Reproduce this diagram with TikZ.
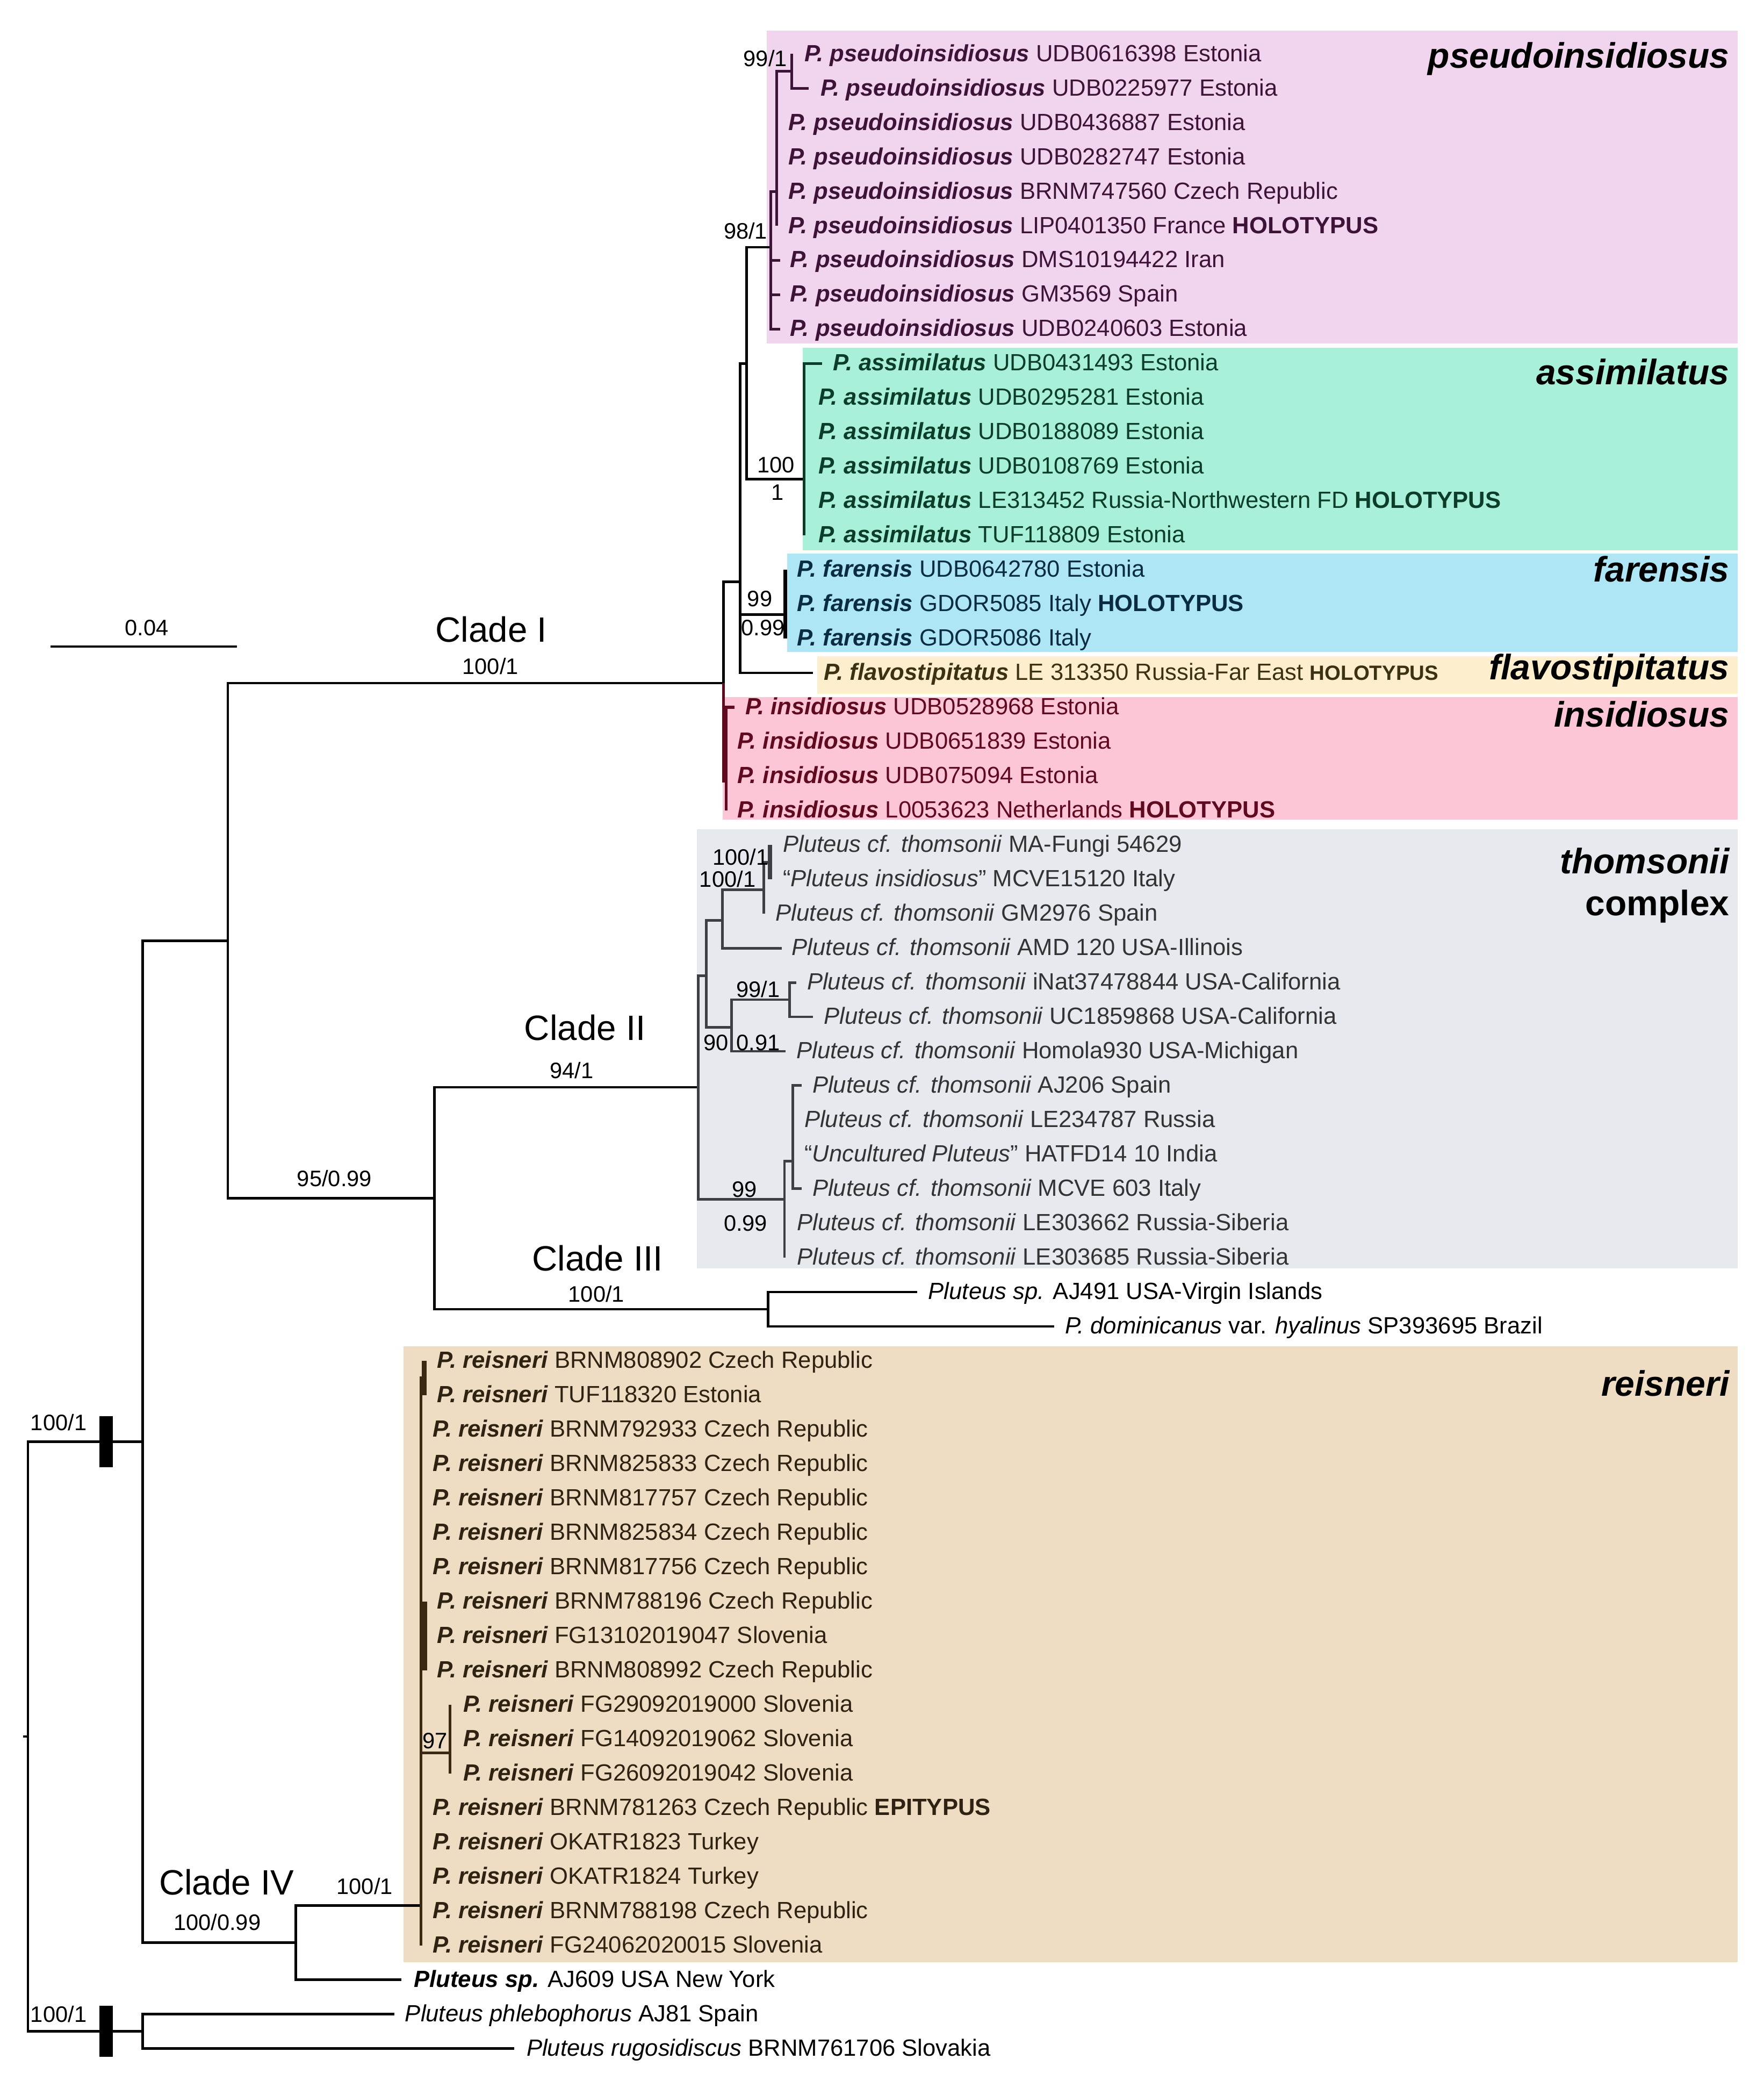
\documentclass[tikz,border=0pt]{standalone}
\usepackage{fontspec}
\setmainfont{Liberation Sans}
\definecolor{cpsbg}{HTML}{F1D5EE}
\definecolor{casbg}{HTML}{A8F0DA}
\definecolor{cfabg}{HTML}{AEE6F6}
\definecolor{cflbg}{HTML}{FDEFCD}
\definecolor{cinbg}{HTML}{FCC6D6}
\definecolor{cthbg}{HTML}{E6EAEF}
\definecolor{crebg}{HTML}{EEDDC3}
\definecolor{cpst}{HTML}{3D1438}
\definecolor{cast}{HTML}{0B3D28}
\definecolor{cfat}{HTML}{0A2C40}
\definecolor{cflt}{HTML}{3A3212}
\definecolor{cint}{HTML}{600A20}
\definecolor{ctht}{HTML}{333333}
\definecolor{cret}{HTML}{2E2212}
\definecolor{cthl}{HTML}{3C4045}
\definecolor{crel}{HTML}{3A2A14}
\newcommand{\leaffont}{\fontsize{17.6}{21}\selectfont}
\newcommand{\supfont}{\fontsize{16.8}{20}\selectfont}
\newcommand{\cladefont}{\fontsize{26.4}{30}\selectfont}
\newcommand{\grpfont}{\fontsize{26.6}{30}\selectfont\bfseries\itshape}
\newcommand{\spn}[1]{\textbf{\textit{#1}}}
\newcommand{\hol}{\textbf{HOLOTYPUS}}
\tikzset{
  tb/.style={line width=1.8pt, black},
  tps/.style={line width=2pt, cpst},
  tas/.style={line width=2pt, cast},
  tfa/.style={line width=3pt, black},
  tin/.style={line width=2.2pt, cint},
  tth/.style={line width=2pt, cthl},
  tthk/.style={line width=3pt, cthl},
  tre/.style={line width=2pt, crel},
  trek/.style={line width=3.6pt, crel},
  lf/.style={anchor=base west, inner sep=0pt, font=\leaffont},
  sup/.style={inner sep=0pt, font=\supfont},
  cladelab/.style={inner sep=0pt, font=\cladefont},
  grp/.style={anchor=east, inner sep=0pt, font=\grpfont},
  bar/.style={fill=black, inner sep=0pt, minimum width=10.3pt, minimum height=38pt}
}
\begin{document}
\begin{tikzpicture}[x=1pt,y=-1pt,declare function={R(\i)=40.5+25.80*\i;}]
\useasboundingbox (0,0) rectangle (1323.8,1561.3);
% ---------- clade backgrounds
\fill[cpsbg] (575.5,23) rectangle (1304,257.5);
\fill[casbg] (602.5,261) rectangle (1304,413);
\fill[cfabg] (590.7,415.5) rectangle (1304,489);
\fill[cflbg] (613.3,492.5) rectangle (1304,520.5);
\fill[cinbg] (542.3,523) rectangle (1304,615);
\fill[cthbg] (523,622) rectangle (1304,951.5);
\fill[crebg] (303,1010) rectangle (1304,1472);
% ---------- internal nodes
\coordinate (root) at (21,1302.8);
\coordinate (stub) at (17.5,1302.8);
\coordinate (nU) at (107,1081.6);
\coordinate (nL) at (107,{R(57.5)});
\coordinate (n171) at (171,705.8);
\coordinate (nCI) at (543,512.5);
\coordinate (n326) at (326,899);
\coordinate (nTh) at (524,815.8);
\coordinate (nCIII) at (576.5,{R(36.5)});
\coordinate (nCIV) at (222,1457.4);
\coordinate (nRe) at (316,{R(53.84)});
\coordinate (nA) at (555.4,{R(15.35)});
\coordinate (nB) at (560.2,{R(9)});
\coordinate (nPs) at (578.6,{R(5.62)});
\coordinate (nC) at (582.7,{R(4)});
\coordinate (nD) at (594.1,{R(0.5)});
\coordinate (nAs) at (603.5,{R(12.36)});
\coordinate (nFa) at (589.4,{R(16.3)});
\coordinate (nIn) at (545,{R(21.15)});
\coordinate (nE) at (530.2,{R(26.8)});
\coordinate (nF) at (542.3,{R(25.2)});
\coordinate (nG) at (573.3,{R(24.3)});
\coordinate (nH) at (577.9,{R(23.5)});
\coordinate (nI) at (549.1,{R(28.3)});
\coordinate (nJ) at (592.7,{R(27.5)});
\coordinate (nK) at (588.7,{R(33.3)});
\coordinate (nM) at (594.8,{R(32.2)});
\coordinate (nR1) at (318.5,{R(38.5)});
\coordinate (nR2) at (318.8,{R(46)});
\coordinate (nR3) at (337.6,{R(49.4)});
% ---------- leaf tips
\coordinate (t0) at (594.1,{R(0)});
\coordinate (t1) at (606.9,{R(1)});
\foreach \i in {2,...,5} {\coordinate (t\i) at (582.7,{R(\i)});}
\foreach \i in {6,7,8} {\coordinate (t\i) at (585.3,{R(\i)});}
\coordinate (t9) at (616.9,{R(9)});
\foreach \i in {10,...,14} {\coordinate (t\i) at (603.5,{R(\i)});}
\foreach \i in {15,16,17} {\coordinate (t\i) at (589.4,{R(\i)});}
\coordinate (t18) at (610.2,{R(18)});
\coordinate (t19) at (551.1,{R(19)});
\foreach \i in {20,21,22} {\coordinate (t\i) at (545,{R(\i)});}
\coordinate (t23) at (577.9,{R(23)});
\coordinate (t24) at (577.9,{R(24)});
\coordinate (t25) at (573.3,{R(25)});
\coordinate (t26) at (586.7,{R(26)});
\coordinate (t27) at (597.5,{R(27)});
\coordinate (t28) at (610.2,{R(28)});
\coordinate (t29) at (589.4,{R(29)});
\coordinate (t30) at (601.5,{R(30)});
\coordinate (t31) at (594.8,{R(31)});
\coordinate (t32) at (594.8,{R(32)});
\coordinate (t33) at (601.5,{R(33)});
\coordinate (t34) at (588.7,{R(34)});
\coordinate (t35) at (588.7,{R(35)});
\coordinate (t36) at (688.4,{R(36)});
\coordinate (t37) at (791,{R(37)});
\coordinate (t38) at (318.5,{R(38)});
\coordinate (t39) at (318.5,{R(39)});
\foreach \i in {40,...,44} {\coordinate (t\i) at (316,{R(\i)});}
\foreach \i in {45,46,47} {\coordinate (t\i) at (318.8,{R(\i)});}
\foreach \i in {48,49,50} {\coordinate (t\i) at (337.6,{R(\i)});}
\foreach \i in {51,...,55} {\coordinate (t\i) at (316,{R(\i)});}
\coordinate (t56) at (301.3,{R(56)});
\coordinate (t57) at (296,{R(57)});
\coordinate (t58) at (386,{R(58)});
% ---------- backbone
\draw[tb] (root) -- (stub);
\draw[tb] (root) |- (nU);
\draw[tb] (root) |- (nL);
\draw[tb] (nU) |- (n171);
\draw[tb] (nU) |- (nCIV);
\draw[tb] (n171) |- (nCI);
\draw[tb] (n171) |- (n326);
\draw[tb] (n326) |- (nTh);
\draw[tb] (n326) |- (nCIII);
\draw[tb] (nCIII) |- (t36);
\draw[tb] (nCIII) |- (t37);
\draw[tb] (nCIV) |- (nRe);
\draw[tb] (nCIV) |- (t56);
\draw[tb] (nL) |- (t57);
\draw[tb] (nL) |- (t58);
\node[bar] (bar1) at (79.6,1081.6) {};
\node[bar] (bar2) at (79.6,{R(57.5)}) {};
% ---------- clade I
\draw[tb] (nCI) |- (nA);
\draw[tin] (nCI) |- (nIn);
\draw[tb] (nA) |- (nB);
\draw[tb] (nA) |- (nFa);
\draw[tb] (nA) |- (t18);
\draw[tb] (nB) |- (nPs);
\draw[tb] (nB) |- (nAs);
\draw[tps] (nPs) |- (nC);
\foreach \i in {6,7,8} {\draw[tps] (nPs) |- (t\i);}
\draw[tps] (nC) |- (nD);
\foreach \i in {2,...,5} {\draw[tps] (nC) |- (t\i);}
\draw[tps] (nD) |- (t0);
\draw[tps] (nD) |- (t1);
\foreach \i in {9,...,14} {\draw[tas] (nAs) |- (t\i);}
\foreach \i in {15,16,17} {\draw[tfa] (nFa) |- (t\i);}
\foreach \i in {19,...,22} {\draw[tin] (nIn) |- (t\i);}
% ---------- clade II
\draw[tth] (nTh) |- (nE);
\draw[tth] (nTh) |- (nK);
\draw[tth] (nE) |- (nF);
\draw[tth] (nE) |- (nI);
\draw[tth] (nF) |- (nG);
\draw[tth] (nF) |- (t26);
\draw[tth] (nG) |- (nH);
\draw[tth] (nG) |- (t25);
\draw[tthk] (nH) |- (t23);
\draw[tthk] (nH) |- (t24);
\draw[tth] (nI) |- (nJ);
\draw[tth] (nI) |- (t29);
\draw[tth] (nJ) |- (t27);
\draw[tth] (nJ) |- (t28);
\draw[tth] (nK) |- (nM);
\draw[tth] (nK) |- (t34);
\draw[tth] (nK) |- (t35);
\foreach \i in {30,...,33} {\draw[tth] (nM) |- (t\i);}
% ---------- clade IV
\draw[tre] (nRe) |- (nR1);
\draw[tre] (nRe) |- (nR2);
\draw[tre] (nRe) |- (nR3);
\foreach \i in {40,...,44,51,52,53,54,55} {\draw[tre] (nRe) |- (t\i);}
\draw[trek] (nR1) |- (t38);
\draw[trek] (nR1) |- (t39);
\foreach \i in {45,46,47} {\draw[trek] (nR2) |- (t\i);}
\foreach \i in {48,49,50} {\draw[tre] (nR3) |- (t\i);}
% ---------- scale bar
\coordinate (sb1) at (38,485);
\coordinate (sb2) at (178,485);
\draw[tb] (sb1) -- (sb2);
\node[sup] (sbl) at (110,471) {0.04};
% ---------- clade and support labels
\node[cladelab] (cI) at (368.7,472.3) {Clade I};
\node[sup] (sCI) at (368,500) {100/1};
\node[cladelab] (cII) at (439,771) {Clade II};
\node[sup] (sCII) at (429,803) {94/1};
\node[sup] (s9599) at (251,884) {95/0.99};
\node[cladelab] (cIII) at (448.5,944) {Clade III};
\node[sup] (sCIII) at (447.5,971) {100/1};
\node[cladelab] (cIV) at (170,1412) {Clade IV};
\node[sup] (sCIV) at (163,1442) {100/0.99};
\node[sup] (sRe) at (273.7,1415) {100/1};
\node[sup] (sU) at (44,1067) {100/1};
\node[sup] (sL) at (44,1511) {100/1};
\node[sup] (s991) at (574.3,{R(0.12)}) {99/1};
\node[sup] (s981) at (559.5,{R(5.14)}) {98/1};
\node[sup] (s100a) at (582.2,{R(11.95)}) {100};
\node[sup] (s1a) at (583.3,{R(12.75)}) {1};
\node[sup] (s99f) at (570.2,{R(15.85)}) {99};
\node[sup] (s099f) at (572.6,{R(16.68)}) {0.99};
\node[sup] (s1001a) at (555.7,{R(23.35)}) {100/1};
\node[sup] (s1001b) at (546,{R(24)}) {100/1};
\node[sup] (s991t) at (568.9,{R(27.2)}) {99/1};
\node[sup] (s90) at (537.3,{R(28.76)}) {90};
\node[sup] (s091) at (568.9,{R(28.76)}) {0.91};
\node[sup] (s99t) at (558.8,{R(33.02)}) {99};
\node[sup] (s099t) at (559.5,{R(34)}) {0.99};
\node[sup] (s97) at (326.6,{R(49.05)}) {97};
% ---------- group labels
\node[grp] (gps) at (1298,44) {pseudoinsidiosus};
\node[grp] (gas) at (1298,279) {assimilatus};
\node[grp] (gfa) at (1298,427) {farensis};
\node[grp] (gfl) at (1298,503) {flavostipitatus};
\node[grp] (gin) at (1298,536) {insidiosus};
\node[grp] (gth) at (1298,646) {thomsonii};
\node[anchor=east, inner sep=0pt, font=\fontsize{26.6}{30}\selectfont\bfseries] (gco) at (1298,680) {complex};
\node[grp] (gre) at (1298,1038) {reisneri};
% ---------- leaf labels
\begin{scope}[text=cpst]
\node[lf] (l0) at (603.5,{R(0)+5.5}) {\spn{P. pseudoinsidiosus} UDB0616398 Estonia};
\node[lf] (l1) at (615.6,{R(1)+5.5}) {\spn{P. pseudoinsidiosus} UDB0225977 Estonia};
\node[lf] (l2) at (591.4,{R(2)+5.5}) {\spn{P. pseudoinsidiosus} UDB0436887 Estonia};
\node[lf] (l3) at (591.4,{R(3)+5.5}) {\spn{P. pseudoinsidiosus} UDB0282747 Estonia};
\node[lf] (l4) at (591.4,{R(4)+5.5}) {\spn{P. pseudoinsidiosus} BRNM747560 Czech Republic};
\node[lf] (l5) at (591.4,{R(5)+5.5}) {\spn{P. pseudoinsidiosus} LIP0401350 France \hol};
\node[lf] (l6) at (592.7,{R(6)+5.5}) {\spn{P. pseudoinsidiosus} DMS10194422 Iran};
\node[lf] (l7) at (592.7,{R(7)+5.5}) {\spn{P. pseudoinsidiosus} GM3569 Spain};
\node[lf] (l8) at (592.7,{R(8)+5.5}) {\spn{P. pseudoinsidiosus} UDB0240603 Estonia};
\end{scope}
\begin{scope}[text=cast]
\node[lf] (l9) at (625,{R(9)+5.5}) {\spn{P. assimilatus} UDB0431493 Estonia};
\node[lf] (l10) at (614,{R(10)+5.5}) {\spn{P. assimilatus} UDB0295281 Estonia};
\node[lf] (l11) at (614,{R(11)+5.5}) {\spn{P. assimilatus} UDB0188089 Estonia};
\node[lf] (l12) at (614,{R(12)+5.5}) {\spn{P. assimilatus} UDB0108769 Estonia};
\node[lf] (l13) at (614,{R(13)+5.5}) {\spn{P. assimilatus} LE313452 Russia-Northwestern FD \hol};
\node[lf] (l14) at (614,{R(14)+5.5}) {\spn{P. assimilatus} TUF118809 Estonia};
\end{scope}
\begin{scope}[text=cfat]
\node[lf] (l15) at (598.1,{R(15)+5.5}) {\spn{P. farensis} UDB0642780 Estonia};
\node[lf] (l16) at (598.1,{R(16)+5.5}) {\spn{P. farensis} GDOR5085 Italy \hol};
\node[lf] (l17) at (598.1,{R(17)+5.5}) {\spn{P. farensis} GDOR5086 Italy};
\end{scope}
\node[lf,text=cflt] (l18) at (618.3,{R(18)+5.5}) {\spn{P. flavostipitatus} LE 313350 Russia-Far East {\fontsize{15.5}{18}\selectfont\bfseries HOLOTYPUS}};
\begin{scope}[text=cint]
\node[lf] (l19) at (559.1,{R(19)+5.5}) {\spn{P. insidiosus} UDB0528968 Estonia};
\node[lf] (l20) at (553.1,{R(20)+5.5}) {\spn{P. insidiosus} UDB0651839 Estonia};
\node[lf] (l21) at (553.1,{R(21)+5.5}) {\spn{P. insidiosus} UDB075094 Estonia};
\node[lf] (l22) at (553.1,{R(22)+5.5}) {\spn{P. insidiosus} L0053623 Netherlands \hol};
\end{scope}
\begin{scope}[text=ctht]
\node[lf] (l23) at (587.4,{R(23)+5.5}) {\textit{Pluteus cf. thomsonii} MA-Fungi 54629};
\node[lf] (l24) at (587.4,{R(24)+5.5}) {“\textit{Pluteus insidiosus}” MCVE15120 Italy};
\node[lf] (l25) at (582,{R(25)+5.5}) {\textit{Pluteus cf. thomsonii} GM2976 Spain};
\node[lf] (l26) at (594.1,{R(26)+5.5}) {\textit{Pluteus cf. thomsonii} AMD 120 USA-Illinois};
\node[lf] (l27) at (605.5,{R(27)+5.5}) {\textit{Pluteus cf. thomsonii} iNat37478844 USA-California};
\node[lf] (l28) at (618.3,{R(28)+5.5}) {\textit{Pluteus cf. thomsonii} UC1859868 USA-California};
\node[lf] (l29) at (597.5,{R(29)+5.5}) {\textit{Pluteus cf. thomsonii} Homola930 USA-Michigan};
\node[lf] (l30) at (609.5,{R(30)+5.5}) {\textit{Pluteus cf. thomsonii} AJ206 Spain};
\node[lf] (l31) at (603.5,{R(31)+5.5}) {\textit{Pluteus cf. thomsonii} LE234787 Russia};
\node[lf] (l32) at (603.5,{R(32)+5.5}) {“\textit{Uncultured Pluteus}” HATFD14 10 India};
\node[lf] (l33) at (609.5,{R(33)+5.5}) {\textit{Pluteus cf. thomsonii} MCVE 603 Italy};
\node[lf] (l34) at (598.1,{R(34)+5.5}) {\textit{Pluteus cf. thomsonii} LE303662 Russia-Siberia};
\node[lf] (l35) at (598.1,{R(35)+5.5}) {\textit{Pluteus cf. thomsonii} LE303685 Russia-Siberia};
\end{scope}
\node[lf] (l36) at (696.5,{R(36)+5.5}) {\textit{Pluteus sp.} AJ491 USA-Virgin Islands};
\node[lf] (l37) at (799,{R(37)+5.5}) {\textit{P. dominicanus} var. \textit{hyalinus} SP393695 Brazil};
\begin{scope}[text=cret]
\node[lf] (l38) at (328,{R(38)+5.5}) {\spn{P. reisneri} BRNM808902 Czech Republic};
\node[lf] (l39) at (328,{R(39)+5.5}) {\spn{P. reisneri} TUF118320 Estonia};
\node[lf] (l40) at (324.6,{R(40)+5.5}) {\spn{P. reisneri} BRNM792933 Czech Republic};
\node[lf] (l41) at (324.6,{R(41)+5.5}) {\spn{P. reisneri} BRNM825833 Czech Republic};
\node[lf] (l42) at (324.6,{R(42)+5.5}) {\spn{P. reisneri} BRNM817757 Czech Republic};
\node[lf] (l43) at (324.6,{R(43)+5.5}) {\spn{P. reisneri} BRNM825834 Czech Republic};
\node[lf] (l44) at (324.6,{R(44)+5.5}) {\spn{P. reisneri} BRNM817756 Czech Republic};
\node[lf] (l45) at (328,{R(45)+5.5}) {\spn{P. reisneri} BRNM788196 Czech Republic};
\node[lf] (l46) at (328,{R(46)+5.5}) {\spn{P. reisneri} FG13102019047 Slovenia};
\node[lf] (l47) at (328,{R(47)+5.5}) {\spn{P. reisneri} BRNM808992 Czech Republic};
\node[lf] (l48) at (347.4,{R(48)+5.5}) {\spn{P. reisneri} FG29092019000 Slovenia};
\node[lf] (l49) at (347.4,{R(49)+5.5}) {\spn{P. reisneri} FG14092019062 Slovenia};
\node[lf] (l50) at (347.4,{R(50)+5.5}) {\spn{P. reisneri} FG26092019042 Slovenia};
\node[lf] (l51) at (324.6,{R(51)+5.5}) {\spn{P. reisneri} BRNM781263 Czech Republic \textbf{EPITYPUS}};
\node[lf] (l52) at (324.6,{R(52)+5.5}) {\spn{P. reisneri} OKATR1823 Turkey};
\node[lf] (l53) at (324.6,{R(53)+5.5}) {\spn{P. reisneri} OKATR1824 Turkey};
\node[lf] (l54) at (324.6,{R(54)+5.5}) {\spn{P. reisneri} BRNM788198 Czech Republic};
\node[lf] (l55) at (324.6,{R(55)+5.5}) {\spn{P. reisneri} FG24062020015 Slovenia};
\end{scope}
\node[lf] (l56) at (310.5,{R(56)+5.5}) {\spn{Pluteus sp.} AJ609 USA New York};
\node[lf] (l57) at (303.8,{R(57)+5.5}) {\textit{Pluteus phlebophorus} AJ81 Spain};
\node[lf] (l58) at (395,{R(58)+5.5}) {\textit{Pluteus rugosidiscus} BRNM761706 Slovakia};
\end{tikzpicture}
\end{document}
